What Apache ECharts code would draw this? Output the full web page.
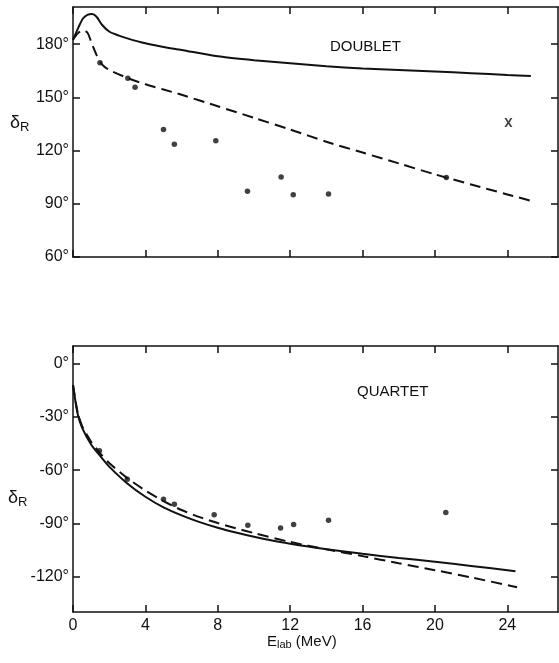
<!DOCTYPE html>
<html>
<head>
<meta charset="utf-8">
<script src="https://cdn.jsdelivr.net/npm/echarts@6/dist/echarts.min.js"></script>
<style>
html, body { margin: 0; padding: 0; background: #fff; }
#main { width: 559px; height: 663px; }
</style>
</head>
<body>
<div id="main"></div>
<script>
// tick labels
var energyTicks = [0, 4, 8, 12, 16, 20, 24];
var doubletTicks = [60, 90, 120, 150, 180];
var quartetTicks = [-120, -90, -60, -30, 0];

// DOUBLET: [E_lab, delta_R]
var doubletSolid = [[0, 182.5], [0.15, 186], [0.3, 189.5], [0.55, 194.5], [0.8, 196.6], [1.05, 197], [1.3, 195.5],
	[1.6, 191], [2.0, 187.2], [2.5, 185], [3, 183.3], [4, 180.5], [5, 178.5], [6, 176.8], [8, 173.2], [10, 171],
	[12, 169.3], [14, 167.6], [16, 166.3], [18, 165.4], [20, 164.6], [22, 163.7], [24, 162.7], [25.3, 162.1]];
var doubletDashed = [[0, 182.5], [0.25, 186], [0.55, 188], [0.8, 186.5], [1.0, 181.5], [1.3, 174], [1.6, 168.7],
	[2.0, 165.5], [3, 161], [4, 157.4], [5, 154.5], [6, 151.5], [8, 145], [10, 138.5], [12, 131.9], [14, 125],
	[16, 118.9], [18, 112.8], [20, 106.6], [22, 100.9], [24, 95.3], [25.3, 91.7]];
var doubletPoints = [[1.49, 169.6], [3.03, 160.8], [3.43, 155.8], [5.0, 131.9], [5.6, 123.6], [7.89, 125.5],
	[9.64, 97.1], [11.5, 105.1], [12.17, 95.1], [14.12, 95.5], [20.63, 104.9]];
var doubletCross = [[24.06, 135.8]];

// QUARTET
var quartetSolid = [[0, -12], [0.25, -28], [0.5, -36], [1, -45.5], [1.5, -52], [2, -58], [3, -67.5], [4, -75],
	[5, -81], [6, -85.5], [7, -89.3], [8, -92.5], [9, -95.2], [10, -97.6], [11, -99.7], [12, -101.5], [13, -103.1],
	[14, -104.6], [16, -107.2], [18, -109.5], [20, -111.7], [22, -114], [24.45, -117]];
var quartetDashed = [[0, -12], [0.25, -27], [0.5, -35], [1, -44], [1.5, -50.5], [2, -56], [3, -64.5], [4, -71.5],
	[5, -77.5], [6, -82.5], [7, -86.5], [8, -89.8], [9, -92.8], [10, -95.5], [12, -100.5], [14, -104.6], [16, -108.5],
	[18, -112.5], [20, -116.4], [22, -120.5], [24.54, -126]];
var quartetPoints = [[1.46, -49.1], [3.0, -65.1], [5.0, -76.4], [5.6, -79.2], [7.8, -85.1], [9.66, -91.1],
	[11.47, -92.6], [12.19, -90.6], [14.12, -88.3], [20.6, -83.9]];

var ink = '#111';
var font = 'Liberation Sans, Arial, sans-serif';
var xMax = 26.8;

function frameX(grid, pos, labels) {
	return {
		type: 'value', gridIndex: grid, position: pos, min: 0, max: xMax,
		axisLine: { show: true, onZero: false, lineStyle: { color: ink, width: 1.5 } },
		axisTick: { show: true, inside: true, length: 7, customValues: energyTicks, lineStyle: { color: ink, width: 1.5 } },
		axisLabel: { show: labels, customValues: energyTicks, color: ink, fontSize: 16, fontFamily: font, margin: 6 },
		splitLine: { show: false }
	};
}
function frameY(grid, pos, min, max, ticks, labels) {
	return {
		type: 'value', gridIndex: grid, position: pos, min: min, max: max,
		axisLine: { show: true, onZero: false, lineStyle: { color: ink, width: 1.5 } },
		axisTick: { show: true, inside: true, length: 7, customValues: ticks, lineStyle: { color: ink, width: 1.5 } },
		axisLabel: { show: labels, customValues: ticks, color: ink, fontSize: 16, fontFamily: font, margin: 4,
			formatter: function (v) { return v + '°'; } },
		splitLine: { show: false }
	};
}
function curve(name, xi, data, dashed) {
	return {
		name: name, type: 'line', xAxisIndex: xi, yAxisIndex: xi, data: data,
		smooth: 0.25, symbol: 'none',
		lineStyle: { color: ink, width: 2, type: dashed ? [11, 6] : 'solid' }
	};
}

var dom = document.getElementById('main');
var myChart = echarts.init(dom);
var option = {
	backgroundColor: '#fff',
	animation: false,
	grid: [
		{ left: 73, top: 7, width: 485, height: 250 },
		{ left: 73, top: 346, width: 485, height: 266 }
	],
	xAxis: [frameX(0, 'bottom', false), frameX(0, 'top', false), frameX(1, 'bottom', true), frameX(1, 'top', false)],
	yAxis: [
		frameY(0, 'left', 60, 201, doubletTicks, true),
		frameY(0, 'right', 60, 201, doubletTicks, false),
		frameY(1, 'left', -140, 10, quartetTicks, true),
		frameY(1, 'right', -140, 10, quartetTicks, false)
	],
	series: [
		curve('doublet-solid', 0, doubletSolid, false),
		curve('doublet-dashed', 0, doubletDashed, true),
		{ type: 'scatter', xAxisIndex: 0, yAxisIndex: 0, data: doubletPoints, symbolSize: 5.5, itemStyle: { color: ink } },
		{ type: 'scatter', xAxisIndex: 0, yAxisIndex: 0, data: doubletCross, symbolSize: [8, 9],
			symbol: 'path://M0,0L2.6,0L5,3.4L7.4,0L10,0L6.4,5L10,10L7.4,10L5,6.6L2.6,10L0,10L3.6,5Z',
			itemStyle: { color: ink } },
		curve('quartet-solid', 2, quartetSolid, false),
		curve('quartet-dashed', 2, quartetDashed, true),
		{ type: 'scatter', xAxisIndex: 2, yAxisIndex: 2, data: quartetPoints, symbolSize: 5.5, itemStyle: { color: ink } }
	],
	graphic: [
		{ type: 'text', left: 330, top: 39, style: { text: 'DOUBLET', fill: ink, font: '15px ' + font } },
		{ type: 'text', left: 357, top: 384, style: { text: 'QUARTET', fill: ink, font: '15px ' + font } },
		{ type: 'text', left: 10, top: 114, style: { text: '{d|δ}{s|R}', fill: ink,
			rich: { d: { fontSize: 18, fontFamily: font, fill: ink }, s: { fontSize: 13, fontFamily: font, fill: ink, padding: [8, 0, 0, 0] } } } },
		{ type: 'text', left: 8, top: 489, style: { text: '{d|δ}{s|R}', fill: ink,
			rich: { d: { fontSize: 18, fontFamily: font, fill: ink }, s: { fontSize: 13, fontFamily: font, fill: ink, padding: [8, 0, 0, 0] } } } },
		{ type: 'text', left: 267, top: 634, style: { text: '{e|E}{s|lab}{e| (MeV)}', fill: ink,
			rich: { e: { fontSize: 15, fontFamily: font, fill: ink }, s: { fontSize: 11, fontFamily: font, fill: ink, padding: [7, 0, 0, 0] } } } }
	]
};
if (option && typeof option === 'object') {
	myChart.setOption(option, true);
}
</script>
</body>
</html>
